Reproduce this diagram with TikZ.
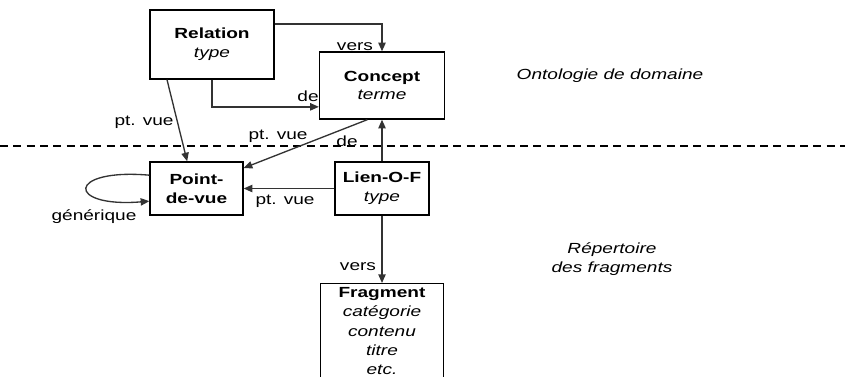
\documentclass[tikz,border=0pt]{standalone}
\usepackage{fontspec}
\setmainfont{Liberation Sans}
\usepackage{graphicx}
\usetikzlibrary{arrows.meta}
\newcommand\sx[1]{\scalebox{1.3}[1]{#1}}
\begin{document}
\begin{tikzpicture}[x=0.75pt,y=-0.75pt,
  box/.style={draw,line width=1pt,rectangle,align=center,inner sep=0pt,font=\fontsize{11}{14}\selectfont},
  conn/.style={line width=1pt,draw=black!80,-{Triangle[length=6.5pt,width=5.5pt]}},
  lbl/.style={font=\fontsize{11}{14}\selectfont,inner sep=0pt,align=center},
  sep/.style={line width=0.9pt,dash pattern=on 6pt off 4pt},
]
\useasboundingbox (0,0) rectangle (845,376);
\clip (0,0) rectangle (845,376);

\node[box,minimum width=93pt,minimum height=51.75pt] (rel) at (212,44.5)
  {\sx{\textbf{Relation}}\\\sx{\textit{type}}};
\node[box,minimum width=93.75pt,minimum height=50.25pt] (con) at (382,85.5)
  {\sx{\textbf{Concept}}\\\sx{\textit{terme}}};
\node[box,minimum width=69.75pt,minimum height=39.75pt] (pdv) at (196.5,188.5)
  {\sx{\textbf{Point-}}\\\sx{\textbf{de-vue}}};
\node[box,minimum width=70.5pt,minimum height=39.75pt] (lien) at (382,188.5)
  {\sx{\textbf{Lien-O-F}}\\\sx{\textit{type}}};
\node[box,anchor=north,minimum width=92.25pt,inner ysep=3pt,text depth=15pt,
  font=\fontsize{11}{14.4}\selectfont] (frag) at (382,283)
  {\sx{\textbf{Fragment}}\\\sx{\textit{catégorie}}\\\sx{\textit{contenu}}\\\sx{\textit{titre}}\\\sx{\textit{etc.}}};

\draw[sep] (0,146) -- (845,146);

\draw[conn] ([yshift=15.4pt]rel.east) -| (con.north);
\draw[conn] (rel.south) |- ([yshift=-16pt]con.west);
\draw[conn] ([xshift=-33.75pt]rel.south) -- ([xshift=-7pt]pdv.north);
\draw[conn] ([xshift=-11pt]con.south) -- ([yshift=-5pt]pdv.north east);
\draw[conn] (lien.north) -- (con.south);
\draw[conn] (lien.west) -- (pdv.east);
\draw[conn] (lien.south) -- (frag.north);
\draw[conn] ([yshift=10pt]pdv.west) .. controls (66,168) and (66,208) .. ([yshift=-9.5pt]pdv.west);

\node[lbl] (l1) at (355,47) {\sx{vers}};
\node[lbl] (l2) at (308,96) {\sx{de}};
\node[lbl] (l3) at (144,122) {\sx{pt. vue}};
\node[lbl] (l4) at (278,136) {\sx{pt. vue}};
\node[lbl] (l5) at (347,141) {\sx{de}};
\node[lbl] (l6) at (285,201) {\sx{pt. vue}};
\node[lbl] (l7) at (94,217) {\sx{générique}};
\node[lbl] (l8) at (358,267) {\sx{vers}};
\node[lbl] (t1) at (610,76) {\sx{\textit{Ontologie de domaine}}};
\node[lbl] (t2) at (612,259) {\sx{\textit{Répertoire}}\\\sx{\textit{des fragments}}};
\end{tikzpicture}
\end{document}
